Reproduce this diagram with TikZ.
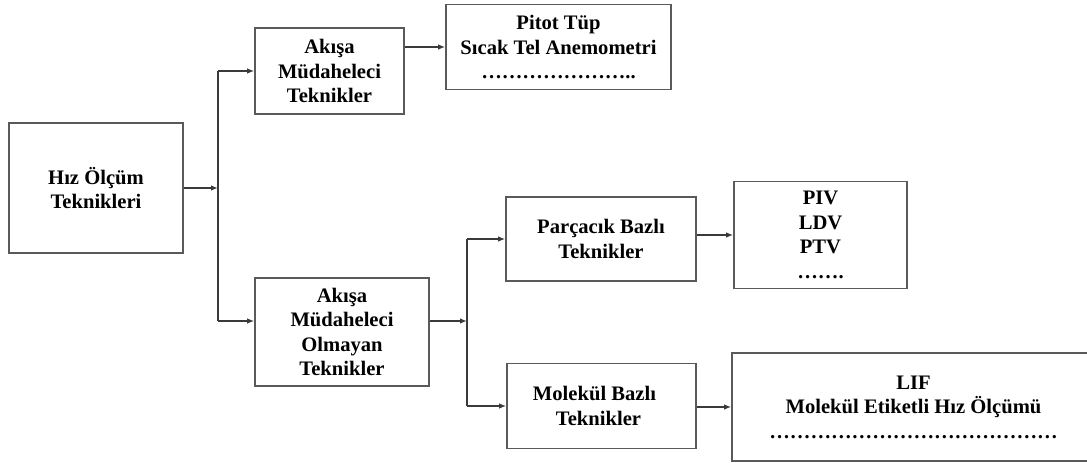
\documentclass[tikz,border=0pt]{standalone}
\usepackage{fontspec}
\setmainfont{Liberation Serif}
\usetikzlibrary{arrows.meta}
\definecolor{boxline}{HTML}{5A5A5A}
\definecolor{wire}{HTML}{3A3A3A}
\begin{document}
\begin{tikzpicture}[x=1pt,y=-1pt,
  box/.style={draw=boxline,line width=1.6pt,fill=white,inner sep=0pt,align=center,
    font=\fontsize{20.6}{24.5}\selectfont\bfseries},
  link/.style={draw=wire,line width=1.6pt},
  arr/.style={link,-{Latex[length=7pt,width=5.5pt]}}]
  % page frame
  \fill[white] (0,0) rectangle (1087,463);
  \clip (0,0) rectangle (1087,463);

  % boxes
  \node[box,minimum width=174pt,minimum height=130pt] (hiz) at (96,188) {Hız Ölçüm\\Teknikleri};
  \node[box,minimum width=149pt,minimum height=86pt] (amb) at (329.5,71) {Akışa\\Müdaheleci\\Teknikler};
  \node[box,minimum width=225pt,minimum height=85pt] (pitot) at (558.5,47) {Pitot Tüp\\Sıcak Tel Anemometri\\…………………..};
  \node[box,minimum width=174pt,minimum height=108pt] (anm) at (342,332) {Akışa\\Müdaheleci\\Olmayan\\Teknikler};
  \node[box,minimum width=190pt,minimum height=84pt] (pb) at (601,239) {Parçacık Bazlı\\Teknikler};
  \node[box,minimum width=173pt,minimum height=107pt] (piv) at (820.5,235) {PIV\\LDV\\PTV\\…….};
  \node[box,minimum width=189pt,minimum height=85pt] (mb) at (601.5,406) {\hspace*{-14pt}Molekül Bazlı\\\hspace*{-6pt}Teknikler};
  \node[box,minimum width=363pt,minimum height=108pt] (lif) at (913.5,407) {LIF\\Molekül Etiketli Hız Ölçümü\\……………………………………};

  % branch points
  \coordinate (t1a) at (218,71);
  \coordinate (t1b) at (218,321);
  \coordinate (t2a) at (467,239);
  \coordinate (t2b) at (467,406);

  % first split
  \draw[link] (t1a) -- (t1b);
  \draw[arr] (hiz.east) -- (hiz.east -| t1a);
  \draw[arr] (t1a) -- (amb.west);
  \draw[arr] (t1b) -- (t1b -| anm.west);
  \draw[arr] (amb.east |- pitot.west) -- (pitot.west);

  % second split
  \draw[link] (t2a) -- (t2b);
  \draw[arr] (anm.east |- t1b) -- (t2a |- t1b);
  \draw[arr] (t2a) -- (pb.west);
  \draw[arr] (t2b) -- (mb.west);
  \draw[arr] (pb.east |- piv.west) -- (piv.west);
  \draw[arr] (mb.east |- lif.west) -- (lif.west);
\end{tikzpicture}
\end{document}
